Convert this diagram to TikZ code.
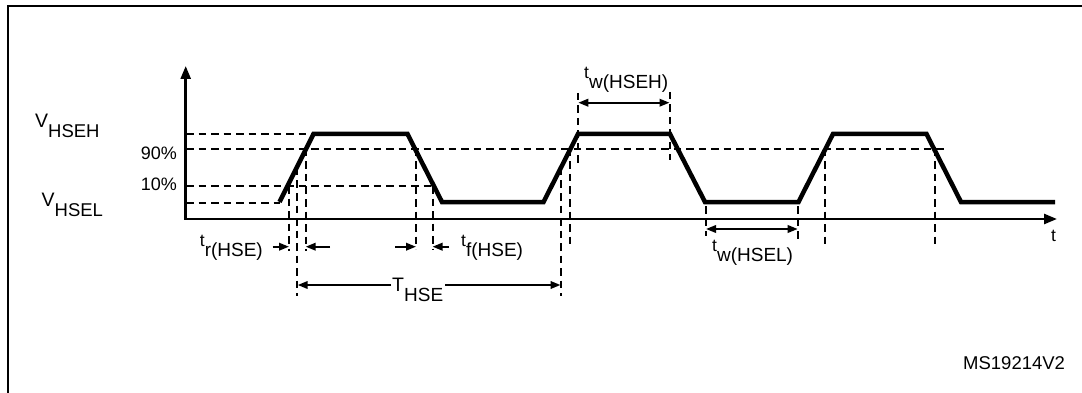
\documentclass[tikz,border=0pt]{standalone}
\usepackage{fontspec}
\setmainfont{Liberation Sans}
\usetikzlibrary{arrows.meta}
\newcommand\subl[2]{#1\raisebox{-10pt}{\fontsize{19}{20}\selectfont #2}}
\newcommand\subv[2]{#1\raisebox{-10pt}{\fontsize{18.5}{20}\selectfont #2}}
\begin{document}
\begin{tikzpicture}[x=1pt,y=-1pt,
  wave/.style={line width=4.5pt,line join=miter},
  axisline/.style={line width=2.5pt,line join=miter,{Triangle[length=13pt,width=10pt]}-{Triangle[length=13pt,width=10pt]}},
  guide/.style={line width=2pt,dash pattern=on 7.5pt off 5pt},
  dim/.style={line width=2pt},
  tip/.style={-{Triangle[length=10pt,width=7.5pt]}},
  both/.style={{Triangle[length=10pt,width=7.5pt]}-{Triangle[length=10pt,width=7.5pt]}},
  lbl/.style={inner sep=0pt,font=\fontsize{17.5}{20}\selectfont},
  big/.style={inner sep=0pt,font=\fontsize{19.5}{20}\selectfont},
  pct/.style={inner sep=0pt,font=\fontsize{18}{20}\selectfont}]
\useasboundingbox (0,0) rectangle (1082,393);
\fill[white] (0,0) rectangle (1082,393);
% frame
\coordinate (fl) at (7.7,400);
\coordinate (fc) at (7.7,6);
\coordinate (fr) at (1090,6);
\draw[line width=2pt] (fl) -- (fc) -- (fr);
% horizontal guides
\coordinate (hHa) at (186,134);   \coordinate (hHb) at (313.5,134);
\coordinate (h9a) at (186,148.7); \coordinate (h9b) at (946.7,148.7);
\coordinate (h1a) at (186,185.7); \coordinate (h1b) at (435,185.7);
\coordinate (hLa) at (186,202.5); \coordinate (hLb) at (279.5,202.5);
\draw[guide] (hHa) -- (hHb);
\draw[guide] (h9a) -- (h9b);
\draw[guide] (h1a) -- (h1b);
\draw[guide] (hLa) -- (hLb);
% vertical guides
\foreach \n/\x/\a/\b in {a/289/186/251, b/297/168/296, c/305.7/149/251,
  d/416/149/249, e/432.5/186/249, f/560.5/168/296, g/569.5/149/248,
  h/578.3/93/163, i/669.5/92/160, j/706/206/236, k/797.7/206/242,
  l/824.5/149/248, m/935/149/248}{
  \coordinate (\n t) at (\x,\a);
  \coordinate (\n b) at (\x,\b);
  \draw[guide] (\n t) -- (\n b);
}
% axes
\coordinate (ytop) at (185.7,66);
\coordinate (org) at (185.7,219);
\coordinate (xend) at (1057,219);
\draw[axisline] (ytop) -- (org) -- (xend);
% waveform
\coordinate (w0) at (279.5,202);
\coordinate (w1) at (313.5,134);
\coordinate (w2) at (407.5,134);
\coordinate (w3) at (442,202);
\coordinate (w4) at (543.5,202);
\coordinate (w5) at (578,134);
\coordinate (w6) at (670,134);
\coordinate (w7) at (705,202);
\coordinate (w8) at (798.5,202);
\coordinate (w9) at (833,134);
\coordinate (w10) at (926.5,134);
\coordinate (w11) at (961,202);
\coordinate (w12) at (1055,202);
\draw[wave] (w0) -- (w1) -- (w2) -- (w3) -- (w4) -- (w5) -- (w6) -- (w7)
  -- (w8) -- (w9) -- (w10) -- (w11) -- (w12);
% labels
\node[big,anchor=base west] (vh) at (35,127.5) {\subv{V}{HSEH}};
\node[pct,anchor=base east] (p90) at (177,159.5) {90\%};
\node[pct,anchor=base east] (p10) at (177,190.5) {10\%};
\node[big,anchor=base west] (vl) at (41.5,206) {\subv{V}{HSEL}};
\node[lbl,anchor=base east] (trl) at (263,246.5) {\subl{t}{r(HSE)}};
\node[lbl,anchor=base west] (tfl) at (461,246.5) {\subl{t}{f(HSE)}};
\node[lbl,anchor=base west] (twh) at (584,78.5) {\subl{t}{w(HSEH)}};
\node[lbl,anchor=base west] (twl) at (712,251.5) {\subl{t}{w(HSEL)}};
\node[big,anchor=base west] (thse) at (392,291) {\subl{T}{HSE}};
\node[lbl,anchor=base west] (tax) at (1051,241.7) {t};
\node[pct,anchor=base west,font=\fontsize{18.5}{20}\selectfont] (ms) at (963,369.3) {MS19214V2};
% t_r arrows
\coordinate (tr0) at (272.7,246.7); \coordinate (tr1) at (289,246.7);
\coordinate (tr2) at (330,246.7);   \coordinate (tr3) at (305.7,246.7);
\draw[dim,tip] (tr0) -- (tr1);
\draw[dim,tip] (tr2) -- (tr3);
% t_f arrows
\coordinate (tf0) at (395,246.7);   \coordinate (tf1) at (416,246.7);
\coordinate (tf2) at (449,246.7);   \coordinate (tf3) at (432.5,246.7);
\draw[dim,tip] (tf0) -- (tf1);
\draw[dim,tip] (tf2) -- (tf3);
% T_HSE arrows
\coordinate (th0) at (391,285);     \coordinate (th1) at (297.7,285);
\coordinate (th2) at (445,285);     \coordinate (th3) at (560.5,285);
\draw[dim,tip] (th0) -- (th1);
\draw[dim,tip] (th2) -- (th3);
% t_w arrows
\coordinate (wh0) at (578.3,102.7); \coordinate (wh1) at (669.5,102.7);
\draw[dim,both] (wh0) -- (wh1);
\coordinate (wl0) at (706,229);     \coordinate (wl1) at (797.7,229);
\draw[dim,both] (wl0) -- (wl1);
\end{tikzpicture}
\end{document}
